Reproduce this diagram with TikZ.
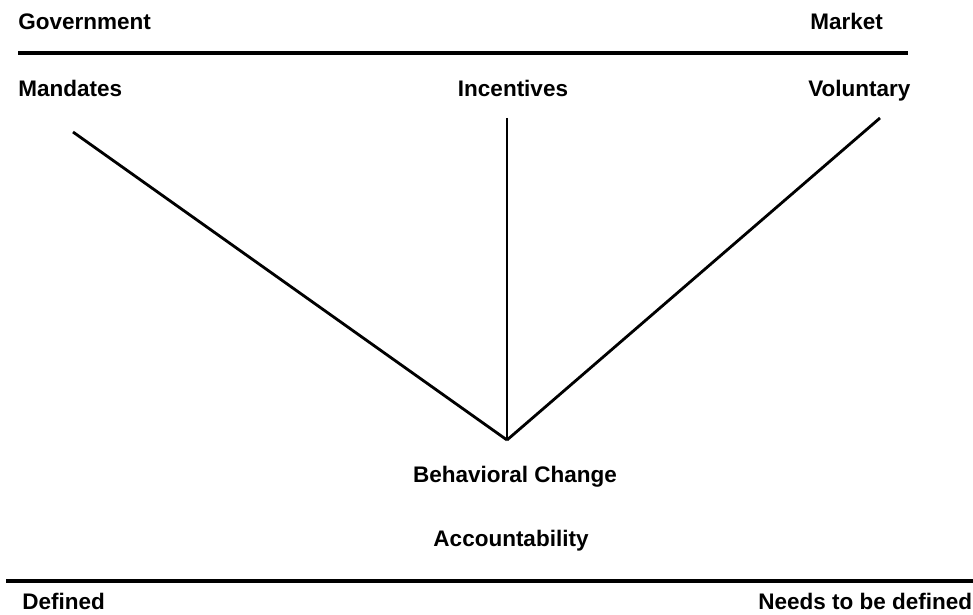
\documentclass[tikz,border=0pt]{standalone}
\usepackage{fontspec}
\setmainfont{Liberation Sans}
\usetikzlibrary{positioning}

\begin{document}
\begin{tikzpicture}[x=0.025cm,y=-0.025cm,
    label/.style={inner sep=0pt,font=\fontsize{16}{19}\selectfont\bfseries},
    rule/.style={line width=2.7pt},
    spoke/.style={line width=2pt}]
            \useasboundingbox (0,0) rectangle (973,615);

            % Top scale
            \node[label,anchor=base west] (gov) at (18,30) {Government};
            \node[label,anchor=base west] (market) at (810,30) {Market};
            \draw[rule] (18,53) -- (908,53);

            % Instruments
            \node[label,anchor=base west] (mand) at (18,97) {Mandates};
            \node[label,anchor=base] (inc) at (513,97) {Incentives};
            \node[label,anchor=base west] (vol) at (808,97) {Voluntary};

            % Spokes meeting at one point
            \coordinate (apex) at (507,440);
            \coordinate (m1) at (73,132);
            \coordinate (i1) at (507,118);
            \coordinate (v1) at (880,118);
            \draw[spoke] (m1) -- (apex);
            \draw[spoke] (i1) -- (apex);
            \draw[spoke] (v1) -- (apex);

            % Outcome
            \node[label,anchor=base] (behav) at (515,483) {Behavioral Change};
            \node[label,anchor=base] (acct) at (511,546) {Accountability};

            % Bottom scale
            \draw[rule] (6,581) -- (973,581);
            \node[label,anchor=base west] (defd) at (22,609) {Defined};
            \node[label,anchor=base west] (needs) at (758,609) {Needs to be defined};
        \end{tikzpicture}
\end{document}
